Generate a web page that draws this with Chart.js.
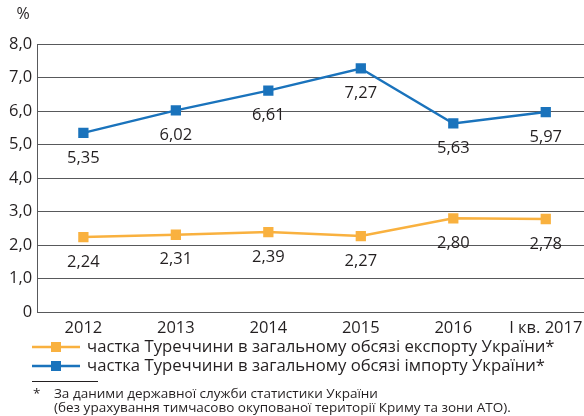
<!DOCTYPE html>
<html>
<head>
<meta charset="utf-8">
<script src="https://cdn.jsdelivr.net/npm/chart.js@4"></script>
<style>
  html, body { margin: 0; padding: 0; background: #fff; overflow: hidden; }
  /* the plot area is wider than the page and gets clipped on the right */
  #wrap { width: 600px; height: 416px; }
</style>
</head>
<body>
<div id="wrap"><canvas id="myChart"></canvas></div>
<script>
const years = ['2012', '2013', '2014', '2015', '2016', 'I кв. 2017'];
const exportShare = [2.24, 2.31, 2.39, 2.27, 2.80, 2.78];
const importShare = [5.35, 6.02, 6.61, 7.27, 5.63, 5.97];
const exportLabel = 'частка Туреччини в загальному обсязі експорту України*';
const importLabel = 'частка Туреччини в загальному обсязі імпорту України*';
const noteLines = [
  'За даними державної служби статистики України',
  '(без урахування тимчасово окупованої території Криму та зони АТО).'
];

const FONT = '"Open Sans", "Noto Sans", sans-serif';
const ORANGE = '#f9b13f';
const BLUE = '#1a73bc';
const INK = '#231f20';

const fmt = v => v.toFixed(2).replace('.', ',');

// values under every marker
const valueLabels = {
  id: 'valueLabels',
  afterDatasetsDraw(chart) {
    const ctx = chart.ctx;
    ctx.save();
    ctx.font = '16.5px ' + FONT;
    ctx.fillStyle = INK;
    ctx.textAlign = 'center';
    ctx.textBaseline = 'middle';
    chart.data.datasets.forEach((ds, i) => {
      chart.getDatasetMeta(i).data.forEach((pt, j) => {
        ctx.fillText(fmt(ds.data[j]), pt.x, pt.y + 25);
      });
    });
    ctx.restore();
  }
};

// unit sign, legend with line+square keys, footnote
const extras = {
  id: 'extras',
  afterDraw(chart) {
    const ctx = chart.ctx;
    ctx.save();
    ctx.fillStyle = INK;
    ctx.font = '16px ' + FONT;
    ctx.textAlign = 'center';
    ctx.textBaseline = 'middle';
    ctx.fillText('%', 23, 14);

    const rows = [[ORANGE, exportLabel, 347], [BLUE, importLabel, 366]];
    rows.forEach(([c, txt, y]) => {
      ctx.strokeStyle = c;
      ctx.lineWidth = 2.5;
      ctx.beginPath();
      ctx.moveTo(32, y);
      ctx.lineTo(80, y);
      ctx.stroke();
      ctx.fillStyle = c;
      ctx.fillRect(51, y - 5, 10, 10);
      ctx.fillStyle = INK;
      ctx.font = '16.7px ' + FONT;
      ctx.textAlign = 'left';
      ctx.fillText(txt, 87, y);
    });

    ctx.strokeStyle = INK;
    ctx.lineWidth = 1;
    ctx.beginPath();
    ctx.moveTo(32, 381.5);
    ctx.lineTo(98, 381.5);
    ctx.stroke();

    ctx.font = '13.5px ' + FONT;
    ctx.fillText('*', 33, 394);
    ctx.fillText(noteLines[0], 54, 394);
    ctx.fillText(noteLines[1], 54, 408);
    ctx.restore();
  }
};

const data = {
  labels: years,
  datasets: [{
    label: exportLabel,
    data: exportShare,
    borderColor: ORANGE,
    backgroundColor: ORANGE,
    borderWidth: 2.5,
    pointStyle: 'rect',
    pointRadius: 5.5,
    pointHoverRadius: 5.5,
    tension: 0
  }, {
    label: importLabel,
    data: importShare,
    borderColor: BLUE,
    backgroundColor: BLUE,
    borderWidth: 2.5,
    pointStyle: 'rect',
    pointRadius: 5.5,
    pointHoverRadius: 5.5,
    tension: 0
  }]
};

const config = {
  type: 'line',
  data: data,
  options: {
    responsive: true,
    maintainAspectRatio: false,
    animation: false,
    layout: {
      padding: { top: 44, right: 0, bottom: 80, left: 4 }
    },
    plugins: {
      legend: { display: false },
      tooltip: { enabled: false }
    },
    scales: {
      x: {
        offset: true,
        grid: { display: false },
        border: { display: false },
        ticks: {
          color: INK,
          font: { family: FONT, size: 16.5 },
          padding: -2,
          maxRotation: 0
        }
      },
      y: {
        min: 0,
        max: 8,
        ticks: {
          stepSize: 1,
          color: INK,
          font: { family: FONT, size: 16.5 },
          padding: 5,
          callback: v => v === 0 ? '0' : v.toFixed(1).replace('.', ',')
        },
        grid: {
          color: '#58595b',
          lineWidth: 1,
          drawTicks: false
        },
        border: { display: true, color: '#58595b', width: 1 }
      }
    }
  },
  plugins: [valueLabels, extras]
};

var myChart = new Chart(
  document.getElementById('myChart'),
  config
);
</script>
</body>
</html>
